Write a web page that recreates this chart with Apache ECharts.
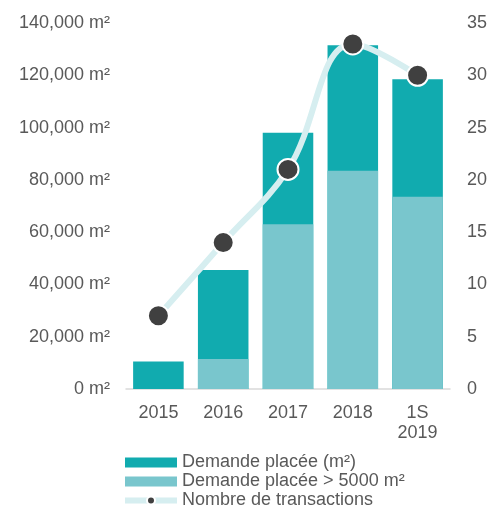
<!DOCTYPE html>
<html>
<head>
<meta charset="utf-8">
<script src="https://cdn.jsdelivr.net/npm/echarts@6/dist/echarts.min.js"></script>
<style>
  html, body { margin: 0; padding: 0; background: #fff; }
  #main { width: 500px; height: 506px; }
</style>
</head>
<body>
<div id="main"></div>
<script>
// categories and values
var years = ['2015', '2016', '2017', '2018', '1S\n2019'];
var demandeTotale = [10500, 45500, 98000, 131500, 118500];
var demandeGrande = [0, 11500, 63000, 83500, 73500];
var transactions = [7, 14, 21, 33, 30];

var myChart = echarts.init(document.getElementById('main'));

myChart.setOption({
  animation: false,
  textStyle: { fontFamily: 'Liberation Sans, Arial, sans-serif' },
  grid: { left: 126, right: 50, top: 23, bottom: 117 },
  legend: {
    orient: 'vertical',
    left: 122,
    top: 453,
    height: 80,
    padding: 0,
    itemWidth: 52,
    itemHeight: 10,
    itemGap: 0,
    textStyle: { fontSize: 18, color: '#595959', lineHeight: 19 },
    data: [
      { name: 'Demande placée (m²)', icon: 'rect' },
      { name: 'Demande placée > 5000 m²', icon: 'rect' },
      { name: 'Nombre de transactions', lineStyle: { width: 6, color: '#d6eef0' } }
    ]
  },
  xAxis: {
    type: 'category',
    data: years,
    axisLine: { lineStyle: { color: '#d9d9d9', width: 1.5 } },
    axisTick: { show: false },
    axisLabel: { color: '#595959', fontSize: 18, lineHeight: 20, margin: 14 }
  },
  yAxis: [
    {
      type: 'value',
      min: 0, max: 140000, interval: 20000,
      splitLine: { show: false },
      axisLabel: {
        color: '#595959', fontSize: 18, margin: 16,
        formatter: function (v) { return v.toLocaleString('en-US') + ' m²'; }
      }
    },
    {
      type: 'value',
      min: 0, max: 35, interval: 5,
      splitLine: { show: false },
      axisLabel: { color: '#595959', fontSize: 18, margin: 17 }
    }
  ],
  series: [
    {
      name: 'Demande placée (m²)',
      type: 'bar',
      data: demandeTotale,
      barWidth: '78%',
      barGap: '-100%',
      itemStyle: { color: '#11abaf' }
    },
    {
      name: 'Demande placée > 5000 m²',
      type: 'bar',
      data: demandeGrande,
      barWidth: '78%',
      itemStyle: { color: '#79c6cd' }
    },
    {
      name: 'Nombre de transactions',
      type: 'line',
      yAxisIndex: 1,
      data: transactions,
      smooth: 0.4,
      symbol: 'circle',
      symbolSize: 21,
      lineStyle: { color: '#d6eef0', width: 6 },
      itemStyle: { color: '#404040', borderColor: '#fff', borderWidth: 2 }
    }
  ]
});
</script>
</body>
</html>
